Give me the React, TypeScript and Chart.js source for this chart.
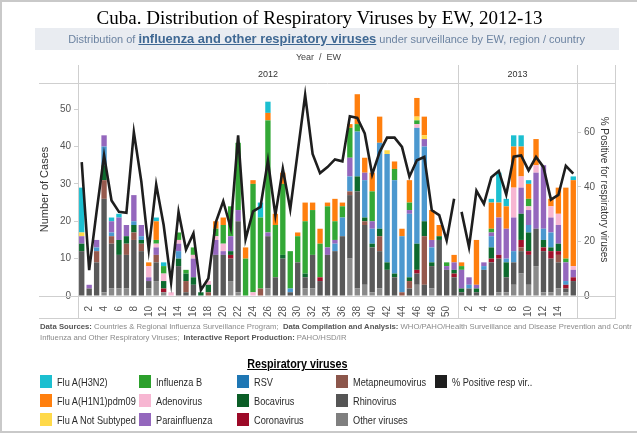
import React, { useEffect, useRef } from 'react';
import { Chart, registerables } from 'chart.js';

Chart.register(...registerables);

// ---------- data ----------
const weeks2012 = ['1','2','3','4','5','6','7','8','9','10','11','12','13','14','15','16','17','18','19','20','21','22','23','24','25','26','27','28','29','30','31','32','33','34','35','36','37','38','39','40','41','42','43','44','45','46','47','48','49','50','51'];
const weeks2013 = ['1','2','3','4','5','6','7','8','9','10','11','12','13','14','15','16'];
const weekLabels = [...weeks2012, ...weeks2013];
const shownTicks = ['2','4','6','8','10','12','14','16','18','20','22','24','26','28','30','32','34','36','38','40','42','44','46','48','50'];

// stacked from bottom to top
const other2012 = [0,0,0,1,2,2,2,0,0,2,4,1,0,0,0,0,0,0,0,0,4,1,0,0,0,2,0,0,0,0,2,2,0,0,0,0,10,2,3,1,2,0,0,0,0,3,0,2,0,0,0];
const other2013 = [0,0,0,0,0,1,1,3,6,3,8,1,1,2,1,0];
const rhino2012 = [12,2,9,25,12,9,9,15,12,2,5,0,0,8,1,3,0,0,11,11,6,19,0,0,0,14,5,10,1,9,3,9,4,11,12,16,17,26,16,12,10,7,5,0,2,3,3,6,15,7,5];
const rhino2013 = [1,2,1,7,9,9,4,6,6,8,10,11,9,7,1,4];
const metap2012 = [0,0,3,5,2,0,3,2,2,0,2,0,0,0,3,0,0,1,0,0,0,0,0,0,2,0,0,0,0,0,0,0,0,0,0,0,1,0,1,0,4,0,0,1,2,0,13,0,0,0,0];
const metap2013 = [0,0,0,0,0,0,0,0,1,0,0,0,0,2,0,0];
const corona2012 = [0,0,0,0,0,0,0,0,0,0,0,1,0,0,0,0,0,0,0,0,1,0,0,0,0,0,0,0,0,0,0,0,1,0,0,0,0,0,0,0,0,0,0,0,0,1,0,0,0,0,1];
const corona2013 = [0,0,0,0,1,1,0,0,2,1,0,1,2,1,1,1];
const boca2012 = [2,0,0,4,0,4,2,2,1,0,0,2,0,2,2,2,1,2,0,0,1,0,0,0,0,0,0,1,0,0,1,0,0,0,0,0,0,4,1,1,2,2,1,0,1,7,4,1,1,0,1];
const boca2013 = [1,0,1,0,3,0,4,0,7,5,0,2,1,2,0,0];
const rsv2012 = [0,0,1,5,1,0,0,1,1,0,0,0,0,2,0,0,0,0,0,0,0,0,0,0,0,0,0,0,1,0,0,0,0,0,2,5,4,12,10,4,23,29,25,15,17,31,20,4,0,0,0];
const rsv2013 = [0,1,0,1,3,0,1,3,0,2,0,3,4,0,1,0];
const para2012 = [2,1,2,3,3,6,3,7,3,1,2,0,0,2,0,5,0,0,4,1,4,3,0,0,0,1,0,0,0,0,0,0,0,2,1,0,5,0,2,2,0,0,0,0,1,0,2,2,0,1,2];
const para2013 = [5,2,1,1,1,10,8,9,7,4,15,17,4,5,5,2];
const adeno2012 = [0,0,0,0,0,0,0,0,0,3,1,2,1,1,0,1,0,1,1,2,0,0,0,1,0,0,0,0,0,0,0,0,0,0,0,0,0,0,0,0,0,0,0,0,0,1,0,0,0,0,0];
const adeno2013 = [0,0,0,0,0,0,0,8,3,1,2,0,3,3,0,1];
const fluB2012 = [0,0,0,0,0,0,0,0,0,0,1,2,0,2,1,2,0,0,2,5,8,18,10,29,19,30,14,19,10,7,14,12,9,11,5,3,8,2,0,8,0,0,3,0,2,1,0,0,0,1,0];
const fluB2013 = [1,0,0,0,1,0,0,0,0,2,0,0,0,0,1,0];
const notSub2012 = [1,0,0,0,0,0,0,0,0,0,0,0,0,0,0,0,0,0,0,0,0,0,0,0,0,0,0,0,0,0,0,0,0,0,0,0,0,0,0,0,0,1,0,0,0,1,1,0,0,0,0];
const notSub2013 = [0,0,0,0,0,0,0,0,0,0,0,0,0,0,0,0];
const h1n12012 = [0,0,0,0,0,0,0,0,0,1,5,0,0,0,0,0,0,0,2,2,0,0,3,1,0,2,3,3,0,1,5,2,4,1,6,1,1,8,4,5,7,0,2,2,6,5,5,8,3,0,2];
const h1n12013 = [1,0,12,0,7,4,6,11,8,4,7,0,2,7,19,23];
const h3n22012 = [12,0,0,0,1,1,0,0,0,0,1,1,0,0,0,0,0,0,0,0,0,0,0,0,4,3,0,0,0,0,0,0,0,0,0,0,0,0,0,0,0,0,0,0,0,0,0,0,0,0,0];
const h3n22013 = [0,0,0,0,1,8,2,3,3,1,0,0,0,0,0,1];

const pct2012 = [49,9.5,31,51.5,35,30.8,30.5,60,42,17,40.8,26,5,30.8,17,22.9,2.2,6.4,27,34.7,25,58.8,20.8,31,32.6,49.6,29.6,46.6,31.8,52.7,73.6,52,45,47.2,50,49.3,65.8,65.2,59.5,44.5,52.7,58,58,54.6,43.7,49.7,50.9,31.4,29.6,20.4,35.6];
const pct2013 = [30.8,17.9,38.5,33.7,43.5,45.8,37.1,51,51.5,46,50.9,47.2,35.3,37,47.7,44.8];

const leftTicks = [0, 10, 20, 30, 40, 50];
const rightTicks = [0, 20, 40, 60];

// ---------- styles ----------
const SANS = "'Liberation Sans', Arial, sans-serif";

const series = [
  { name: 'Other viruses', color: '#8a8a8a', d: [...other2012, ...other2013] },
  { name: 'Rhinovirus', color: '#595959', d: [...rhino2012, ...rhino2013] },
  { name: 'Metapneumovirus', color: '#96594d', d: [...metap2012, ...metap2013] },
  { name: 'Coronavirus', color: '#a0112b', d: [...corona2012, ...corona2013] },
  { name: 'Bocavirus', color: '#0d6a2e', d: [...boca2012, ...boca2013] },
  { name: 'RSV', color: '#4b98cf', d: [...rsv2012, ...rsv2013] },
  { name: 'Parainfluenza', color: '#9467bd', d: [...para2012, ...para2013] },
  { name: 'Adenovirus', color: '#f7b6d2', d: [...adeno2012, ...adeno2013] },
  { name: 'Influenza B', color: '#33a836', d: [...fluB2012, ...fluB2013] },
  { name: 'Flu A Not Subtyped', color: '#ffd94a', d: [...notSub2012, ...notSub2013] },
  { name: 'Flu A(H1N1)pdm09', color: '#ff7f0e', d: [...h1n12012, ...h1n12013] },
  { name: 'Flu A(H3N2)', color: '#1cbfd0', d: [...h3n22012, ...h3n22013] },
];

const legendCols = [
  [['Flu A(H3N2)', '#1cbfd0'], ['Flu A(H1N1)pdm09', '#ff7f0e'], ['Flu A Not Subtyped', '#ffd94a']],
  [['Influenza B', '#2ca02c'], ['Adenovirus', '#f7b6d2'], ['Parainfluenza', '#9467bd']],
  [['RSV', '#1f77b4'], ['Bocavirus', '#0b5e27'], ['Coronavirus', '#9c0a28']],
  [['Metapneumovirus', '#8c564b'], ['Rhinovirus', '#555555'], ['Other viruses', '#7f7f7f']],
  [['% Positive resp vir..', '#1e1e1e']],
];

const LINE = '#cfcfcf';

const tableLines = {
  id: 'tableLines',
  beforeDatasetsDraw(chart: any) {
    const { ctx, chartArea: a, scales } = chart;
    const xs = scales.x;
    const bnd = (xs.getPixelForValue(weeks2012.length - 1) + xs.getPixelForValue(weeks2012.length)) / 2;
    ctx.save();
    ctx.strokeStyle = LINE;
    ctx.lineWidth = 1;
    const v = (px: number, y0: number, y1: number) => {
      ctx.beginPath(); ctx.moveTo(Math.round(px) + 0.5, y0); ctx.lineTo(Math.round(px) + 0.5, y1); ctx.stroke();
    };
    const h = (py: number, x0: number, x1: number) => {
      ctx.beginPath(); ctx.moveTo(x0, Math.round(py) + 0.5); ctx.lineTo(x1, Math.round(py) + 0.5); ctx.stroke();
    };
    v(a.left, 65, 318);
    v(bnd, 65, 318);
    v(a.right, 65, 318);
    v(615, 65, 318);
    h(a.top, 39, 616);
    h(a.bottom, 39, 616);
    h(318, 39, 616);
    ctx.restore();
  },
};

export default function App() {
  const ref = useRef<HTMLCanvasElement | null>(null);

  useEffect(() => {
    if (!ref.current) return;
    const datasets: any[] = series.map((s) => ({
      type: 'bar',
      label: s.name,
      data: s.d,
      backgroundColor: s.color,
      borderWidth: 0,
      stack: 'v',
      yAxisID: 'y',
      order: 1,
      barPercentage: 0.72,
      categoryPercentage: 1,
    }));
    datasets.push({
      type: 'line',
      label: '% Positive resp vir..',
      data: [...pct2012, ...pct2013],
      yAxisID: 'y1',
      order: 0,
      borderColor: '#1e1e1e',
      borderWidth: 2.6,
      pointRadius: 0,
      tension: 0,
      segment: {
        borderColor: (c: any) => (c.p0DataIndex === weeks2012.length - 1 ? 'rgba(0,0,0,0)' : '#1e1e1e'),
      },
    });

    const chart = new Chart(ref.current, {
      type: 'bar',
      data: { labels: weekLabels, datasets },
      plugins: [tableLines],
      options: {
        responsive: false,
        animation: false,
        devicePixelRatio: 1,
        layout: { padding: { left: 37, right: 26, top: 83, bottom: 113 } },
        plugins: { legend: { display: false }, tooltip: { enabled: false } },
        scales: {
          x: {
            stacked: true,
            offset: true,
            grid: { display: false },
            border: { display: false },
            ticks: {
              autoSkip: false,
              minRotation: 90,
              maxRotation: 90,
              padding: 2,
              color: '#555',
              font: { family: SANS, size: 10 },
              callback: (_v: any, i: number) => {
                const isYear2013 = i >= weeks2012.length;
                const w = weekLabels[i];
                if (isYear2013 && w === '16') return '';
                return shownTicks.includes(w) ? w : '';
              },
            },
            afterFit: (s: any) => { s.height = 24; },
          },
          y: {
            type: 'linear',
            position: 'left',
            stacked: true,
            min: 0,
            max: 57,
            afterBuildTicks: (s: any) => { s.ticks = leftTicks.map((v) => ({ value: v })); },
            grid: { drawOnChartArea: false, drawTicks: true, tickLength: 4, color: LINE },
            border: { display: false },
            ticks: { padding: 3, color: '#555', font: { family: SANS, size: 10 } },
            title: { display: true, text: 'Number of Cases', color: '#333', padding: 1, font: { family: SANS, size: 11 } },
            afterFit: (s: any) => { s.width = 41; },
          },
          y1: {
            type: 'linear',
            position: 'right',
            min: 0,
            max: 78,
            afterBuildTicks: (s: any) => { s.ticks = rightTicks.map((v) => ({ value: v })); },
            grid: { drawOnChartArea: false, drawTicks: true, tickLength: 4, color: LINE },
            border: { display: false },
            ticks: { padding: 3, color: '#555', font: { family: SANS, size: 10 } },
            title: { display: true, text: '% Positive for respiratory viruses', color: '#333', padding: 1, font: { family: SANS, size: 10 } },
            afterFit: (s: any) => { s.width = 34; },
          },
        },
      } as any,
    });
    return () => chart.destroy();
  }, []);

  const abs = (o: React.CSSProperties): React.CSSProperties => ({ position: 'absolute', ...o });
  const squeeze = (k: number, origin = 'left center'): React.CSSProperties => ({ display: 'inline-block', transform: `scaleX(${k})`, transformOrigin: origin, whiteSpace: 'nowrap' });

  return (
    <div style={{ position: 'fixed', left: 0, top: 0, width: 637, height: 433, background: '#fff', overflow: 'hidden' }}>
      <canvas ref={ref} width={637} height={433} style={{ position: 'absolute', left: 0, top: 0, width: 637, height: 433, display: 'block' }} />
      <div style={abs({ left: 0, top: 0, width: 637, height: 433, boxSizing: 'border-box', border: '2px solid #c9c9c9', borderRight: 'none' })} />
      <div style={abs({ left: 0, top: 6, width: 639, textAlign: 'center', fontFamily: "'Liberation Serif', 'Times New Roman', serif", fontSize: 19, lineHeight: '24px', color: '#000', whiteSpace: 'nowrap' })}>
        Cuba. Distribution of Respiratory Viruses by EW, 2012-13
      </div>
      <div style={abs({ left: 35, top: 28, width: 584, height: 22, background: '#e9ecf1' })} />
      <div style={abs({ left: 35, top: 29, width: 584, height: 20, lineHeight: '20px', textAlign: 'center', fontFamily: SANS, fontSize: 11.5, color: '#6c83a1', whiteSpace: 'nowrap' })}>
        <span style={squeeze(0.955, 'center center')}>
          Distribution of{' '}
          <span style={{ fontWeight: 'bold', fontSize: 13.5, color: '#3f6893', textDecoration: 'underline' }}>influenza and other respiratory viruses</span>
          {' '}under surveillance by EW, region / country
        </span>
      </div>
      <div style={abs({ left: 0, top: 51, width: 637, textAlign: 'center', fontFamily: SANS, fontSize: 9, lineHeight: '12px', color: '#444' })}>Year &nbsp;/ &nbsp;EW</div>
      <div style={abs({ left: 78, top: 68, width: 380, textAlign: 'center', fontFamily: SANS, fontSize: 9, lineHeight: '12px', color: '#333' })}>2012</div>
      <div style={abs({ left: 458, top: 68, width: 119, textAlign: 'center', fontFamily: SANS, fontSize: 9, lineHeight: '12px', color: '#333' })}>2013</div>
      <div style={abs({ left: 40, top: 321, width: 592, height: 24, overflow: 'hidden', fontFamily: SANS, fontSize: 8, lineHeight: '11px', color: '#8a8a8a' })}>
        <div style={{ ...squeeze(0.965), display: 'block', width: 700 }}>
          <b style={{ color: '#555' }}>Data Sources:</b> Countries &amp; Regional Influenza Surveillance Program;&nbsp; <b style={{ color: '#555' }}>Data Compilation and Analysis:</b> WHO/PAHO/Health Surveillance and Disease Prevention and Control
          <br />
          Influenza and Other Respiratory Viruses;&nbsp; <b style={{ color: '#555' }}>Interactive Report Production:</b> PAHO/HSD/IR
        </div>
      </div>
      <div style={abs({ left: 0, top: 357, width: 595, textAlign: 'center', fontFamily: SANS, fontWeight: 'bold', fontSize: 12.5, lineHeight: '15px', color: '#000' })}>
        <span style={{ ...squeeze(0.86, 'center center'), textDecoration: 'underline' }}>Respiratory viruses</span>
      </div>
      {legendCols.map((col, ci) =>
        col.map(([name, color], ri) => (
          <div key={name} style={abs({ left: 40 + ci * 98.7, top: 375 + ri * 19, height: 13, display: 'flex', alignItems: 'center', whiteSpace: 'nowrap' })}>
            <span style={{ display: 'inline-block', width: 12, height: 13, background: color, marginRight: 5, flex: 'none' }} />
            <span style={{ ...squeeze(0.8), fontFamily: SANS, fontSize: 11.5, color: '#2a2a2a' }}>{name}</span>
          </div>
        ))
      )}
      <div style={abs({ left: 0, top: 431, width: 637, height: 2, background: '#c9c9c9' })} />
    </div>
  );
}
